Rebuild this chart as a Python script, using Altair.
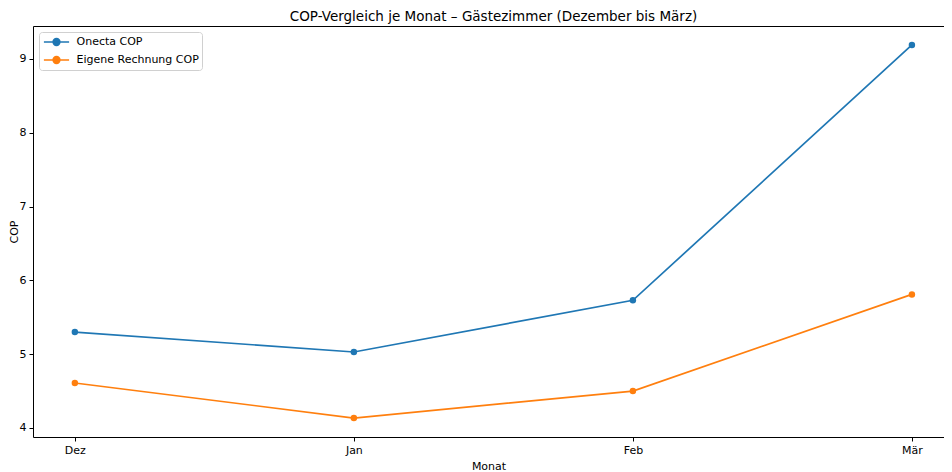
import altair as alt
import pandas as pd

months = ["Dez", "Jan", "Feb", "Mär"]
month_idx = [0, 1, 2, 3]
onecta_cop = [5.30, 5.03, 5.73, 9.19]
eigene_cop = [4.61, 4.135, 4.50, 5.81]
series_names = ["Onecta COP", "Eigene Rechnung COP"]
colors = ["#1f77b4", "#ff7f0e"]

rows = []
for name, vals in zip(series_names, [onecta_cop, eigene_cop]):
    for i, m, v in zip(month_idx, months, vals):
        rows.append({"idx": i, "Monat": m, "COP": v, "Serie": name})
df = pd.DataFrame(rows)

label_expr = "['Dez','Jan','Feb','Mär'][datum.value]"
x_scale = alt.Scale(domain=[-0.15, 3.115], nice=False, zero=False)

x_bottom = alt.X(
    "idx:Q",
    scale=x_scale,
    axis=alt.Axis(orient="bottom", values=month_idx, labelExpr=label_expr, title="Monat", grid=False),
)
y_enc = alt.Y(
    "COP:Q",
    scale=alt.Scale(domain=[3.878, 9.447], nice=False, zero=False),
    axis=alt.Axis(values=[4, 5, 6, 7, 8, 9], title="COP", grid=False),
)
color_enc = alt.Color(
    "Serie:N",
    scale=alt.Scale(domain=series_names, range=colors),
    legend=alt.Legend(
        title=None,
        orient="top-left",
        offset=6,
        symbolType="M-2.1,0L2.1,0M-0.55,0A0.55,0.55,0,1,1,0.55,0A0.55,0.55,0,1,1,-0.55,0Z",
        symbolSize=144,
        symbolOffset=7.5,
        symbolStrokeWidth=1.7,
        fillColor="white",
        strokeColor="#d0d0d0",
        cornerRadius=3,
        padding=3,
        labelFontSize=11,
        labelColor="black",
        labelFont="DejaVu Sans",
        rowPadding=4,
        labelOffset=13,
    ),
)

base = alt.Chart(df)
lines = base.mark_line(
    strokeWidth=1.7,
    point=alt.OverlayMarkDef(filled=True, size=42, opacity=1),
).encode(x=x_bottom, y=y_enc, color=color_enc)
top_frame = base.mark_point(opacity=0).encode(
    x=alt.X(
        "idx:Q",
        scale=x_scale,
        axis=alt.Axis(orient="top", labels=False, ticks=False, domain=True, title=None, grid=False),
    ),
    y=y_enc,
)

chart = (
    alt.layer(lines, top_frame)
    .resolve_axis(x="independent")
    .properties(
        width=911,
        height=411,
        title=alt.TitleParams(
            "COP-Vergleich je Monat – Gästezimmer (Dezember bis März)",
            fontSize=13.5,
            fontWeight="normal",
            font="DejaVu Sans",
            color="black",
            offset=3,
            dx=5,
        ),
        autosize=alt.AutoSizeParams(type="none"),
        padding={"left": 25, "top": 18, "right": 0, "bottom": 36},
    )
    .configure_view(stroke=None)
    .configure_axis(
        labelFont="DejaVu Sans",
        titleFont="DejaVu Sans",
        labelFontSize=11,
        titleFontSize=11,
        titleFontWeight="normal",
        labelColor="black",
        titleColor="black",
        domainColor="black",
        tickColor="black",
        domainWidth=1,
        tickSize=4,
        labelPadding=3,
    )
    .configure_axisY(titlePadding=0)
    .configure_axisX(titlePadding=5)
)

chart.save("out.html", embed_options={"renderer": "svg", "actions": False})
